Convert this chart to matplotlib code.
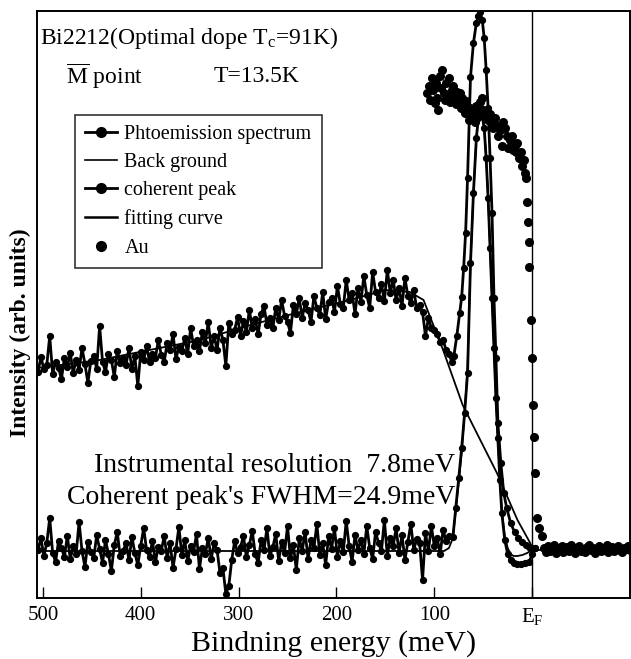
import numpy as np
import matplotlib
matplotlib.use("Agg")
import matplotlib.pyplot as plt
from matplotlib.lines import Line2D

plt.rcParams['font.family'] = ['Liberation Serif', 'DejaVu Serif']
plt.rcParams['mathtext.fontset'] = 'custom'
plt.rcParams['mathtext.rm'] = 'Liberation Serif'
plt.rcParams['mathtext.it'] = 'Liberation Serif:italic'
plt.rcParams['mathtext.bf'] = 'Liberation Serif:bold'

# ---------------- data (binding energy in meV, intensity in arb. units) ----------------
noisy_energy = np.arange(505, 84, -3)   # measured energy grid of the noisy part (141 points)

spectrum_noisy = [
    226, 241, 229, 233, 262, 224, 236, 230, 219, 240,
    231, 245, 225, 238, 228, 250, 234, 215, 237, 242,
    229, 272, 236, 226, 244, 238, 221, 247, 235, 240,
    233, 250, 229, 242, 212, 246, 238, 252, 236, 244,
    240, 258, 243, 236, 255, 248, 264, 239, 251, 247,
    260, 244, 270, 252, 258, 247, 266, 255, 276, 250,
    262, 248, 270, 258, 232, 275, 264, 268, 281, 262,
    277, 266, 288, 270, 279, 264, 284, 292, 273, 280,
    270, 290, 278, 298, 282, 276, 265, 293, 284, 300,
    280, 295, 288, 276, 302, 290, 283, 306, 279, 296,
    300, 286, 312, 294, 290, 318, 298, 305, 284, 310,
    296, 322, 303, 290, 326, 306, 300, 314, 297, 328,
    305, 318, 298, 310, 292, 320, 302, 295, 308, 290,
    293, 286, 262, 280, 270, 268, 264, 256, 258, 248,
    244]
spectrum_peak_energy = [82, 80, 77, 74, 72, 70, 68, 66, 63, 60, 57, 55, 53, 51, 49, 47, 45,
                        43, 41, 39, 37, 35, 32, 29, 26, 22, 18, 14, 10, 6, 3, 0, -3]
spectrum_peak = [236, 242, 262, 285, 301, 330, 365, 420, 521, 555, 575, 582, 586, 578, 560, 528, 490,
                 440, 385, 300, 240, 175, 135, 105, 90, 75, 66, 60, 56, 53, 51, 50, 50]

coherent_noisy = [
    48, 60, 42, 55, 80, 45, 36, 57, 50, 41,
    62, 39, 52, 44, 76, 47, 31, 56, 46, 40,
    63, 49, 35, 58, 44, 27, 53, 66, 42, 47,
    55, 38, 61, 45, 33, 52, 70, 48, 41, 57,
    36, 51, 47, 62, 40, 55, 30, 49, 71, 43,
    58, 37, 52, 46, 64, 29, 50, 44, 60, 39,
    55, 48, 25, 30, 4, 12, 38, 57, 45, 51,
    62, 41, 53, 67, 44, 35, 58, 48, 70, 42,
    51, 64, 37, 56, 45, 72, 40, 53, 28, 60,
    47, 66, 39, 58, 50, 74, 43, 55, 33, 62,
    49, 70, 41, 57, 46, 77, 52, 36, 63, 48,
    58, 44, 72, 50, 39, 66, 55, 47, 78, 42,
    60, 52, 70, 45, 63, 38, 56, 74, 48, 59,
    55, 18, 65, 47, 72, 52, 60, 44, 68, 57,
    62]
coherent_peak_energy = [81, 78, 75, 72, 69, 66, 63, 60, 57, 55, 53, 51, 49, 47, 45, 43, 41, 39,
                        37, 35, 33, 31, 28, 25, 22, 19, 15, 11, 7, 3, 0, -3]
coherent_peak = [61, 90, 120, 150, 185, 225, 335, 405, 460, 480, 488, 482, 470, 440, 400, 350, 300, 250,
                 200, 160, 118, 85, 58, 44, 38, 35, 34, 34, 35, 36, 44, 50]

background_energy = [506, 442, 391, 339, 288, 237, 186, 150, 125, 111, 91, 71, 53, 36, 15, 2, 0, -3]
background = [230, 238, 248, 258, 273, 286, 298, 308, 306, 298, 248, 193, 158, 125, 78, 55, 50, 49]

fit_energy = [506, 90, 85, 81, 78, 75, 72, 69, 66, 63, 60, 57, 55, 53, 51, 49, 47, 45, 43, 41, 39,
              37, 35, 33, 31, 28, 25, 22, 19, 15, 10, 5, 2, 0, -100]
fit = [47, 47, 50, 60, 88, 116, 146, 186, 230, 335, 405, 460, 480, 488, 482, 470, 440, 400, 350, 300, 250,
       200, 160, 120, 88, 62, 50, 44, 42, 42, 43, 45, 47, 48, 48]

au_energy = [107, 105, 104, 102, 101, 99, 98, 97, 96, 94, 93, 92, 90, 89, 88, 86, 85, 84, 82, 81,
             80, 78, 77, 76, 74, 73, 72, 70, 69, 68, 66, 65, 63, 62, 60, 58, 57, 55, 53, 51,
             50, 48, 46, 45, 43, 41, 40, 38, 36, 35, 33, 31, 30, 28, 26, 25, 23, 21, 20, 18,
             16, 15, 13, 11, 10, 8, 7, 6, 5, 4, 3.5, 3, 1, 0, -1, -2, -3, -5, -7, -10]
au = [505, 512, 498, 520, 508, 495, 515, 500, 488, 522, 510, 528, 505, 498, 515, 502, 520, 496, 508, 512,
      500, 494, 506, 498, 505, 490, 500, 494, 485, 497, 486, 478, 490, 482, 488, 476, 492, 485, 496, 500,
      488, 483, 486, 478, 484, 476, 470, 480, 472, 462, 468, 452, 476, 470, 462, 450, 458, 462, 448, 452,
      446, 455, 440, 446, 432, 438, 425, 420, 396, 376, 356, 331, 278, 240, 193, 161, 125, 80, 70, 62]
au_flat_energy = np.arange(-12, -101, -2)
au_flat = [50, 46, 52, 47, 49, 53, 45, 50, 48, 52, 46, 49, 51, 47, 53, 48, 45, 50, 52, 47,
           49, 46, 51, 53, 48, 50, 45, 49, 52, 47, 50, 48, 53, 46, 49, 51, 47, 50, 52, 48,
           46, 50, 49, 52, 48]

tick_values = [500, 400, 300, 200, 100, 0]
tick_labels = ['500', '400', '300', '200', '100', r'E$_\mathrm{F}$']

# ---------------- figure ----------------
W, H = 631, 659
fig = plt.figure(figsize=(W / 100, H / 100), dpi=100)
ax = fig.add_axes([37 / W, 1 - 598 / H, 593 / W, 587 / H])

spec_E = np.concatenate([noisy_energy, spectrum_peak_energy])
spec_I = np.concatenate([spectrum_noisy, spectrum_peak])
coh_E = np.concatenate([noisy_energy, coherent_peak_energy])
coh_I = np.concatenate([coherent_noisy, coherent_peak])

ax.plot(background_energy, background, color='k', lw=1.3, zorder=3)
ax.plot(spec_E, spec_I, color='k', lw=2.0, marker='o', ms=4.2, zorder=4)
ax.plot(coh_E, coh_I, color='k', lw=2.0, marker='o', ms=4.2, zorder=4)
ax.plot(fit_energy, fit, color='k', lw=1.3, zorder=5)
ax.plot(au_energy, au, ls='none', marker='o', ms=5.5, color='k', zorder=4)
ax.plot(au_flat_energy, au_flat, ls='none', marker='o', ms=5.5, color='k', zorder=4)
ax.axvline(0, color='k', lw=1.0, zorder=2)

ax.set_xlim(506, -100)
ax.set_ylim(0, 587)
ax.set_yticks([])
ax.set_xticks(tick_values)
ax.set_xticklabels(tick_labels, fontsize=15)
ax.tick_params(axis='x', direction='in', length=8, width=1.0, pad=6)
for s in ax.spines.values():
    s.set_linewidth(1.4)

ax.set_xlabel('Bindning energy (meV)', fontsize=21.5, labelpad=2)
fig.text(20 / W, 1 - 333 / H, 'Intensity (arb. units)', rotation=90, fontsize=17,
         fontweight='bold', ha='center', va='center')

fig.text(40 / W, 1 - 38 / H, r'Bi2212(Optimal dope T$_\mathrm{c}$=91K)', fontsize=17,
         ha='left', va='center')
fig.text(66 / W, 1 - 76 / H, r'$\overline{\mathrm{M}}$ point', fontsize=17, ha='left', va='center')
fig.text(214 / W, 1 - 76 / H, 'T=13.5K', fontsize=17, ha='left', va='center')

fig.text(455 / W, 1 - 465 / H, 'Instrumental resolution  7.8meV', fontsize=20,
         ha='right', va='center')
fig.text(455 / W, 1 - 497 / H, "Coherent peak's FWHM=24.9meV", fontsize=20,
         ha='right', va='center')

handles = [
    Line2D([], [], color='k', lw=2, marker='o', ms=7),
    Line2D([], [], color='k', lw=1.2),
    Line2D([], [], color='k', lw=2, marker='o', ms=7),
    Line2D([], [], color='k', lw=1.8),
    Line2D([], [], color='k', ls='none', marker='o', ms=7),
]
labels = ['Phtoemission spectrum', 'Back ground', 'coherent peak', 'fitting curve', 'Au']
leg = ax.legend(handles, labels, loc='upper left',
                bbox_to_anchor=((75 - 37) / 593, (598 - 115) / 587),
                borderaxespad=0, fontsize=14.5, frameon=True, fancybox=False,
                edgecolor='k', handlelength=1.6, handletextpad=0.35, labelspacing=0.45,
                borderpad=0.5)
leg.get_frame().set_linewidth(1.2)

fig.savefig('out.png', dpi=100)
